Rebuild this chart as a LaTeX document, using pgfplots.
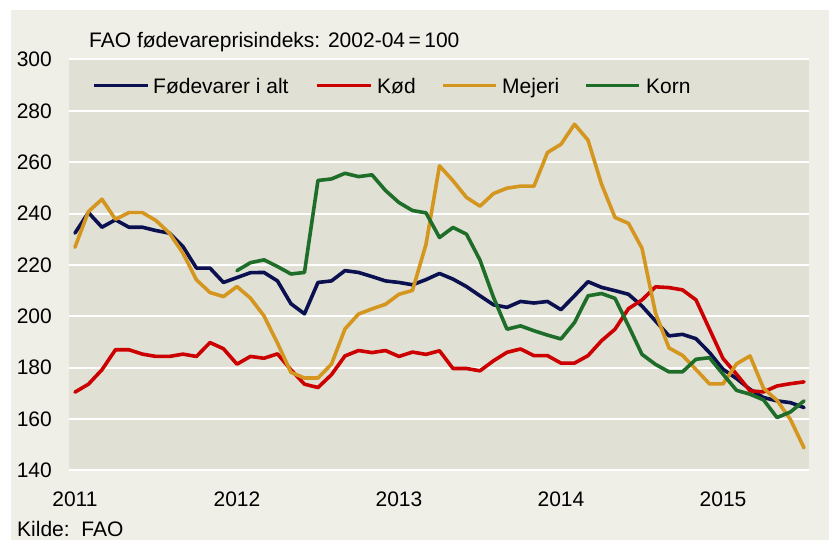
\documentclass[border=0pt]{standalone}
\usepackage{fontspec}
\setmainfont{Liberation Sans}
\usepackage{pgfplots}
\pgfplotsset{compat=1.18}
\definecolor{outerbg}{HTML}{EFEFE7}
\definecolor{plotbg}{HTML}{E0E0D4}
\definecolor{cnavy}{HTML}{0A1050}
\definecolor{cred}{HTML}{CC0000}
\definecolor{corange}{HTML}{D4961E}
\definecolor{cgreen}{HTML}{1E6E2A}
\begin{document}
\fontsize{21bp}{25bp}\selectfont
\begin{tikzpicture}[x=1bp,y=1bp]
\useasboundingbox (0,0) rectangle (829,540);
\fill[white] (0,0) rectangle (829,540);
\fill[outerbg] (11,0) rectangle (829,530);
\begin{axis}[
  at={(69bp,69.5bp)}, anchor=south west,
  scale only axis, width=740bp, height=411bp,
  xmin=-0.44, xmax=54.37, ymin=140, ymax=300,
  ytick={140,160,...,300},
  xtick={0,12,24,36,48}, xticklabels={2011,2012,2013,2014,2015},
  axis line style={draw=none},
  major tick length=0pt,
  ymajorgrids,
  grid style={white, line width=2bp},
  axis background/.style={fill=plotbg},
  tick label style={font=\fontsize{21bp}{25bp}\selectfont, inner sep=0pt},
  yticklabel style={anchor=east},
  xticklabel style={anchor=north},
  yticklabel shift=17bp,
  xticklabel shift=21bp,
  /pgf/number format/assume math mode=true,
  every axis plot/.append style={line width=3.6bp, line join=round, line cap=round, no markers},
]
\addplot[cnavy] coordinates {
(0,232.4)(1,240.4)(2,234.7)(3,237.6)(4,234.7)(5,234.7)(6,233.4)(7,232.4)(8,227.2)(9,218.8)
(10,218.8)(11,213.2)(12,215.1)(13,217.0)(14,217.1)(15,213.8)(16,204.9)(17,201.0)(18,213.2)(19,213.8)
(20,217.8)(21,217.1)(22,215.5)(23,213.8)(24,213.2)(25,212.3)(26,214.3)(27,216.7)(28,214.5)(29,211.6)
(30,208.0)(31,204.5)(32,203.5)(33,205.8)(34,205.2)(35,205.8)(36,202.6)(37,208.0)(38,213.5)(39,211.3)
(40,210.0)(41,208.6)(42,204.0)(43,198.2)(44,192.4)(45,193.0)(46,191.3)(47,185.9)(48,179.4)(49,175.8)
(50,171.6)(51,168.4)(52,167.1)(53,166.4)(54,164.5)};
\addplot[cred] coordinates {
(0,170.5)(1,173.6)(2,179.2)(3,187.0)(4,187.0)(5,185.3)(6,184.4)(7,184.4)(8,185.3)(9,184.4)
(10,189.8)(11,187.4)(12,181.4)(13,184.4)(14,183.7)(15,185.4)(16,179.2)(17,173.6)(18,172.3)(19,177.3)
(20,184.6)(21,186.7)(22,185.9)(23,186.7)(24,184.4)(25,186.1)(26,185.2)(27,186.6)(28,179.7)(29,179.7)
(30,178.8)(31,182.7)(32,186.0)(33,187.3)(34,184.7)(35,184.7)(36,181.8)(37,181.8)(38,184.7)(39,190.5)
(40,195.0)(41,203.0)(42,206.4)(43,211.5)(44,211.2)(45,210.3)(46,206.4)(47,195.0)(48,183.6)(49,177.5)
(50,171.0)(51,170.6)(52,172.9)(53,173.8)(54,174.5)};
\addplot[corange] coordinates {
(0,226.9)(1,240.8)(2,245.6)(3,237.8)(4,240.4)(5,240.4)(6,237.3)(7,232.4)(8,224.6)(9,214.2)
(10,209.3)(11,207.7)(12,211.6)(13,207.1)(14,200.2)(15,189.6)(16,178.2)(17,176.0)(18,176.0)(19,181.4)
(20,195.1)(21,200.9)(22,202.9)(23,204.7)(24,208.6)(25,210.1)(26,228.0)(27,258.6)(28,252.8)(29,246.3)
(30,242.9)(31,247.8)(32,249.9)(33,250.7)(34,250.7)(35,263.8)(36,267.0)(37,274.8)(38,268.6)(39,251.5)
(40,238.5)(41,236.2)(42,226.5)(43,201.3)(44,187.7)(45,184.8)(46,179.3)(47,173.7)(48,173.7)(49,181.5)
(50,184.6)(51,172.0)(52,167.3)(53,159.8)(54,148.8)};
\addplot[cgreen] coordinates {
(12,217.8)(13,220.9)(14,222.0)(15,219.4)(16,216.5)(17,217.1)(18,252.9)(19,253.5)
(20,255.7)(21,254.4)(22,255.1)(23,249.0)(24,244.3)(25,241.2)(26,240.3)(27,230.7)(28,234.6)(29,232.0)
(30,221.9)(31,207.4)(32,195.0)(33,196.3)(34,194.4)(35,192.7)(36,191.2)(37,197.6)(38,208.0)(39,208.9)
(40,207.0)(41,196.3)(42,185.2)(43,181.3)(44,178.4)(45,178.4)(46,183.3)(47,183.9)(48,177.5)(49,171.2)
(50,169.7)(51,167.5)(52,160.6)(53,162.8)(54,167.1)};
\end{axis}
\node[anchor=base west, inner sep=0] at (89,492.7) {FAO fødevareprisindeks: 2002-04\,=\,100};
\draw[cnavy, line width=3.6bp] (94,454.5) -- (148,454.5);
\node[anchor=base west, inner sep=0] at (153,446) {Fødevarer i alt};
\draw[cred, line width=3.6bp] (317,454.5) -- (371,454.5);
\node[anchor=base west, inner sep=0] at (377,446) {Kød};
\draw[corange, line width=3.6bp] (443,454.5) -- (496,454.5);
\node[anchor=base west, inner sep=0] at (502,446) {Mejeri};
\draw[cgreen, line width=3.6bp] (586,454.5) -- (639,454.5);
\node[anchor=base west, inner sep=0] at (646,446) {Korn};
\node[anchor=base west, inner sep=0] at (17,3) {Kilde:\ \ FAO};
\end{tikzpicture}
\end{document}
